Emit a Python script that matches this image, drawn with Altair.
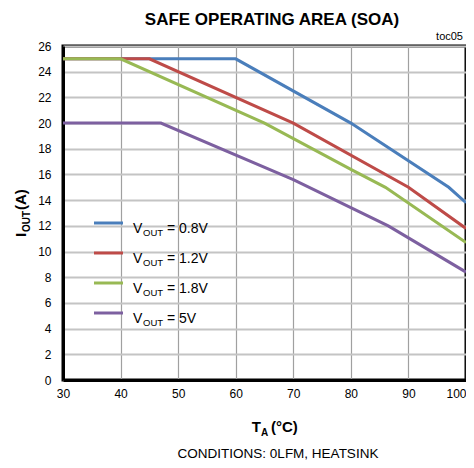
import altair as alt
import pandas as pd

# ---- data ----
series = ["0.8V", "1.2V", "1.8V", "5V"]
colors = ["#4a7ebb", "#be4b48", "#98b954", "#7d60a0"]

ta_08 = [30, 60, 80, 97, 100]
io_08 = [25, 25, 20.0, 15.0, 13.8]
ta_12 = [30, 45, 70, 90, 100]
io_12 = [25, 25, 20.0, 15.0, 11.8]
ta_18 = [30, 40, 65, 80, 86, 100]
io_18 = [25, 25, 20.0, 16.4, 15.0, 10.7]
ta_5 = [30, 47, 70, 86.5, 100]
io_5 = [20, 20, 15.6, 12.0, 8.4]

x_ticks = [30, 40, 50, 60, 70, 80, 90, 100]
y_ticks = list(range(0, 27, 2))

rows = []
for s, xs, ys in [("0.8V", ta_08, io_08), ("1.2V", ta_12, io_12),
                  ("1.8V", ta_18, io_18), ("5V", ta_5, io_5)]:
    for i, (a, b) in enumerate(zip(xs, ys)):
        rows.append({"series": s, "ta": a, "io": b, "ord": i})
df = pd.DataFrame(rows)

FONT = "Liberation Sans, Arial, sans-serif"
W, H = 403, 334

xscale = alt.Scale(domain=[30, 100], nice=False)
yscale = alt.Scale(domain=[0, 26], nice=False)
cscale = alt.Scale(domain=series, range=colors)

lines = alt.Chart(df).mark_line(strokeWidth=3, clip=True).encode(
    x=alt.X("ta:Q", scale=xscale,
            axis=alt.Axis(values=x_ticks, title=None, ticks=False, labelPadding=8,
                          domainColor="black", domainWidth=3, gridColor="#a0a0a0",
                          gridWidth=1.2, labelFontSize=12, labelColor="black",
                          labelFont=FONT, labelFlush=False,
                          labelAlign={"condition": {"test": "datum.value == 100",
                                                    "value": "right"},
                                      "value": "center"})),
    y=alt.Y("io:Q", scale=yscale,
            axis=alt.Axis(values=y_ticks, title=None, ticks=False, labelPadding=12,
                          domainColor="black", domainWidth=3, gridColor="#c4c4c4",
                          gridWidth=1.8, labelFontSize=12, labelColor="black",
                          labelFont=FONT)),
    color=alt.Color("series:N", scale=cscale, legend=None),
    order="ord:Q",
)

# ---- manual legend ----
leg = pd.DataFrame({"series": series, "i": list(range(len(series)))})
leg_base = alt.Chart(leg).transform_calculate(
    ly="177 + datum.i * 30", tb="187 + datum.i * 30", sb="190 + datum.i * 30",
    rest="'= ' + datum.series")
leg_lines = leg_base.mark_rule(strokeWidth=3).encode(
    x=alt.value(31), x2=alt.value(60),
    y=alt.Y("ly:Q", scale=None),
    color=alt.Color("series:N", scale=cscale, legend=None))
leg_v = leg_base.mark_text(align="left", baseline="alphabetic", fontSize=14,
                           font=FONT, color="black").encode(
    x=alt.value(70), y=alt.Y("tb:Q", scale=None), text=alt.value("V"))
leg_out = leg_base.mark_text(align="left", baseline="alphabetic", fontSize=9.5,
                             font=FONT, color="black").encode(
    x=alt.value(80), y=alt.Y("sb:Q", scale=None), text=alt.value("OUT"))
leg_rest = leg_base.mark_text(align="left", baseline="alphabetic", fontSize=14,
                              font=FONT, color="black").encode(
    x=alt.value(104), y=alt.Y("tb:Q", scale=None), text="rest:N")

# ---- text pieces ----
one = pd.DataFrame({"k": [0]})

def txt(t, x, y, size, bold=False, align="left", angle=0):
    kw = dict(align=align, baseline="alphabetic", fontSize=size, font=FONT,
              color="black", fontWeight="bold" if bold else "normal")
    if angle:
        kw["angle"] = angle
    return alt.Chart(one).mark_text(**kw).encode(
        x=alt.value(x), y=alt.value(y), text=alt.value(t))

texts = [
    txt("SAFE OPERATING AREA (SOA)", 209, -21, 17, bold=True, align="center"),
    txt("toc05", 400, -6, 11, align="right"),
    txt("T", 198, 386, 15, bold=True, align="right"),
    txt("A", 198, 390, 10, bold=True),
    txt("(°C)", 208, 386, 15, bold=True),
    txt("CONDITIONS:  0LFM, HEATSINK", 215, 412, 13.5, align="center"),
    txt("I", -37, 191, 15, bold=True, angle=270),
    txt("OUT", -33, 186, 10, bold=True, angle=270),
    txt("(A)", -37, 164, 15, bold=True, angle=270),
]

chart = alt.layer(lines, leg_lines, leg_v, leg_out, leg_rest, *texts).properties(
    width=W, height=H,
    autosize=alt.AutoSizeParams(type="none"),
    padding={"left": 55, "top": 38, "right": 0, "bottom": 80},
).configure_view(stroke="black", strokeWidth=3)

chart.save("out.html", embed_options={"renderer": "svg", "actions": False})
